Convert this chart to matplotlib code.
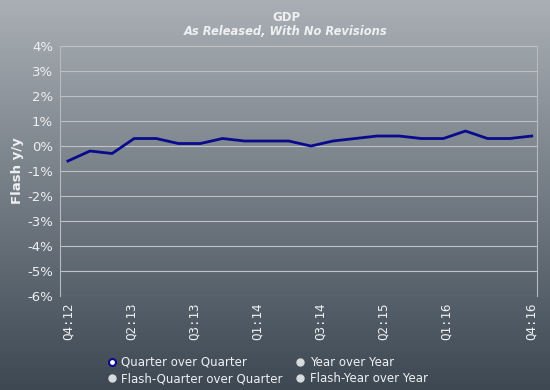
import matplotlib.pyplot as plt
import numpy as np
from matplotlib.lines import Line2D

# Flash GDP, quarter over quarter (%)
qoq = [-0.6, -0.2, -0.3, 0.3, 0.3, 0.1, 0.1, 0.3, 0.2, 0.2, 0.2,
       0.0, 0.2, 0.3, 0.4, 0.4, 0.3, 0.3, 0.6, 0.3, 0.3, 0.4]
tick_labels = ['Q4:12', 'Q2:13', 'Q3:13', 'Q1:14', 'Q3:14', 'Q2:15', 'Q1:16', 'Q4:16']
tick_pos = [0, 20 / 7, 40 / 7, 60 / 7, 80 / 7, 100 / 7, 120 / 7, 21]
y_ticks = list(range(-6, 5))
legend_labels = ['Quarter over Quarter', 'Year over Year',
                 'Flash-Quarter over Quarter', 'Flash-Year over Year']

txt = '#eef0f2'

fig = plt.figure(figsize=(5.5, 3.9), dpi=100)

# gradient background over the whole figure
bg = fig.add_axes([0, 0, 1, 1], zorder=-10)
top = np.array([0xa9, 0xaf, 0xb5]) / 255
bot = np.array([0x3d, 0x48, 0x53]) / 255
t = np.linspace(0, 1, 256)[:, None]
grad = top * (1 - t) + bot * t
bg.imshow(grad[:, None, :], aspect='auto', extent=[0, 1, 0, 1])
bg.axis('off')

ax = fig.add_axes([0.109, 0.241, 0.867, 0.641])
ax.patch.set_alpha(0)
x = np.arange(len(qoq))
ax.plot(x, qoq, color='#0a0a8c', linewidth=2, solid_joinstyle='round')

ax.set_xlim(-0.36, 21.23)
ax.set_ylim(-6, 4)
ax.set_yticks(y_ticks)
ax.set_yticklabels([f'{v}%' for v in y_ticks], color=txt, fontsize=9.5)
ax.set_xticks(tick_pos)
ax.set_xticklabels(tick_labels, rotation=90, color=txt, fontsize=9,
                   family='DejaVu Sans Mono')
ax.tick_params(length=0, pad=5)
ax.grid(axis='y', color='#bcc2c7', linewidth=0.8)
for s in ['top', 'bottom']:
    ax.spines[s].set_visible(False)
for s in ['left', 'right']:
    ax.spines[s].set_color('#b5bbc0')
    ax.spines[s].set_linewidth(0.8)
ax.set_ylabel('Flash y/y', color=txt, fontsize=9.5, fontweight='bold', labelpad=2)

fig.text(0.52, 0.956, 'GDP', ha='center', va='center', color=txt,
         fontsize=8.5, fontweight='bold')
fig.text(0.52, 0.918, 'As Released, With No Revisions', ha='center', va='center',
         color=txt, fontsize=8.3, fontweight='bold', style='italic')

handles = [
    Line2D([], [], linestyle='none', marker='o', markersize=5,
           markerfacecolor='white', markeredgecolor='#0a0a8c', markeredgewidth=1.5),
    Line2D([], [], linestyle='none', marker='o', markersize=5, color='#d8dcdf'),
    Line2D([], [], linestyle='none', marker='o', markersize=5, color='#d8dcdf'),
    Line2D([], [], linestyle='none', marker='o', markersize=5, color='#d8dcdf'),
]
leg = fig.legend([handles[0], handles[2], handles[1], handles[3]],
                 [legend_labels[0], legend_labels[2], legend_labels[1], legend_labels[3]],
                 ncol=2, loc='lower center', bbox_to_anchor=(0.485, -0.015),
                 frameon=False, fontsize=8.5, labelcolor=txt, handletextpad=0.3,
                 columnspacing=1.0, labelspacing=0.3, handlelength=1.0)

fig.savefig('out.png', dpi=100)
